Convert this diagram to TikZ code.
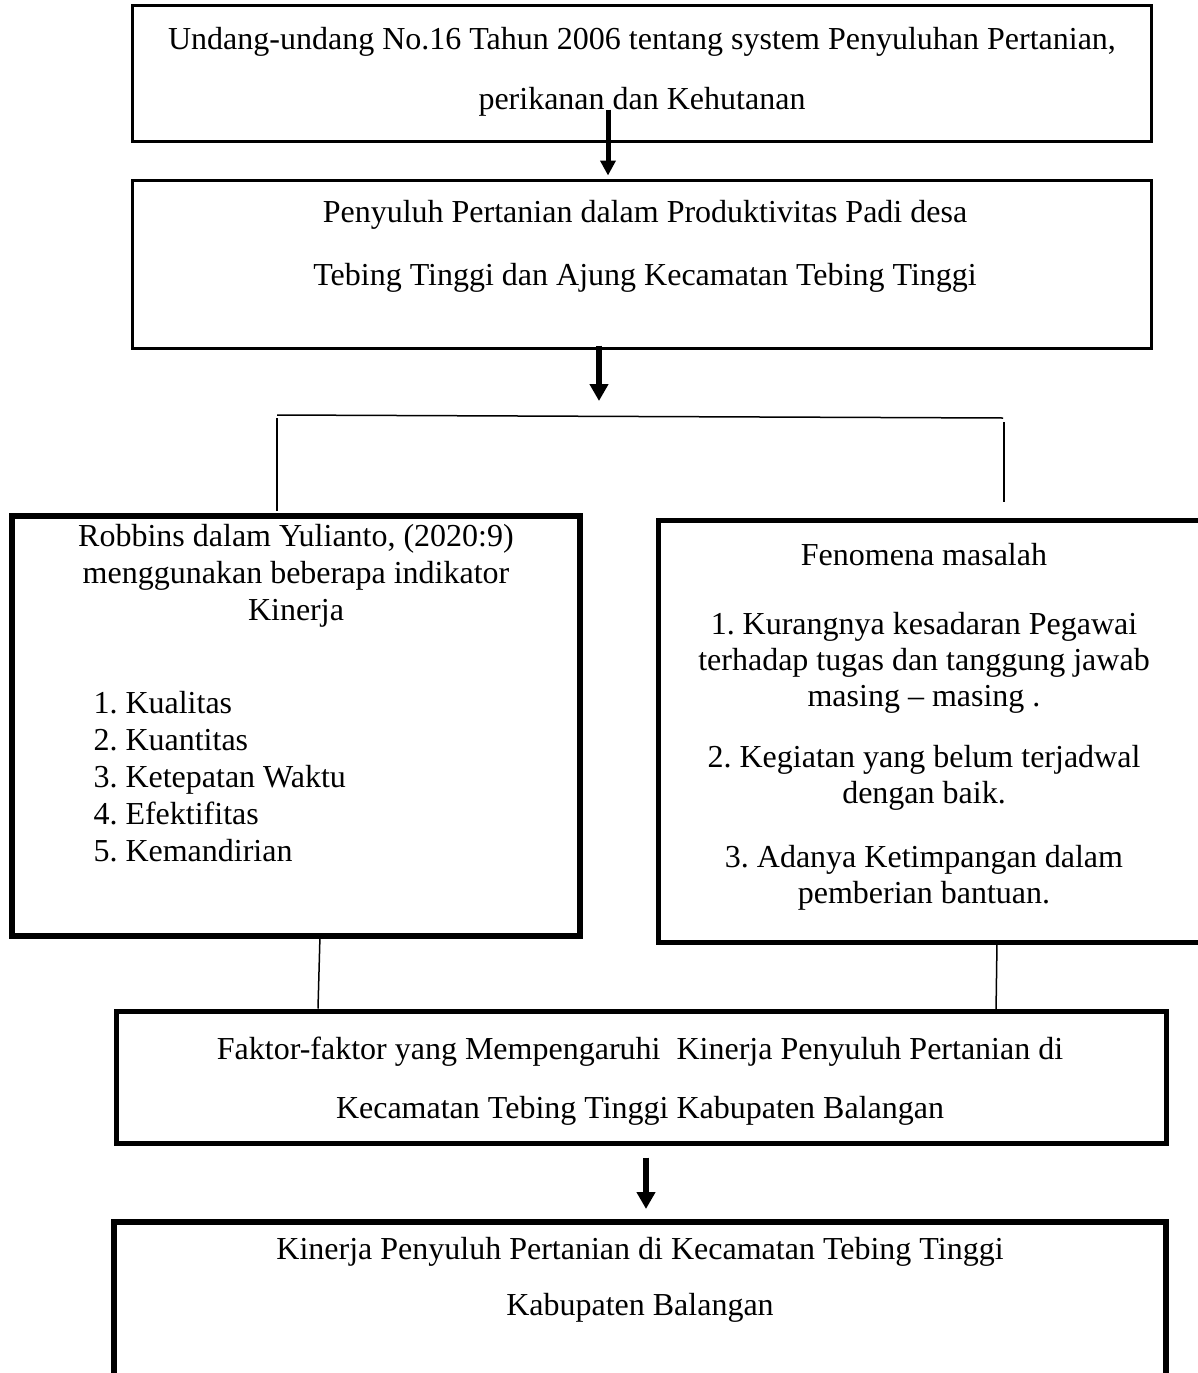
\documentclass[tikz,border=0pt]{standalone}
\usepackage{fontspec}
\setmainfont{Liberation Serif}
\usetikzlibrary{calc,arrows.meta}
\frenchspacing

\begin{document}
\begin{tikzpicture}[x=0.4pt, y=-0.4pt,
            box/.style={draw, rectangle, inner sep=0pt},
            txt/.style={inner sep=0pt, anchor=north, align=center},
            link/.style={line width=0.6pt},
            arr/.style={-{Triangle[width=7.2pt,length=6.8pt]}, line width=2.4pt}]
            \useasboundingbox (0,0) rectangle (1198,1373);

            % Boxes
            \node[box, line width=1.2pt, minimum width=407.2pt, minimum height=54pt] (b1) at (642, 73.5) {};
            \node[box, line width=1.2pt, minimum width=407.2pt, minimum height=67.2pt] (b2) at (642, 264) {};
            \node[box, line width=2.4pt, minimum width=227.2pt, minimum height=168pt] (b3) at (296, 726) {};
            \node[box, line width=2pt, minimum width=222.8pt, minimum height=168.8pt] (b4) at (936.5, 731) {};
            \node[box, line width=2pt, minimum width=419.6pt, minimum height=52.8pt] (b5) at (641.5, 1077) {};
            \node[box, line width=2.4pt, minimum width=420.8pt, minimum height=71.2pt] (b6) at (640, 1311) {};

            % Texts
            \node[txt, font=\fontsize{12.8}{24}\selectfont] (t1) at (642, 27) {Undang-undang No.16 Tahun 2006 tentang system Penyuluhan Pertanian,\\perikanan dan Kehutanan};
            \node[txt, font=\fontsize{12.8}{25.2}\selectfont] (t2) at (645, 200) {Penyuluh Pertanian dalam Produktivitas Padi desa\\Tebing Tinggi dan Ajung Kecamatan Tebing Tinggi};
            \node[txt, font=\fontsize{12.8}{14.8}\selectfont] (t3) at (296, 524) {Robbins dalam Yulianto, (2020:9)\\menggunakan beberapa indikator\\Kinerja};
            \node[txt, anchor=north west, align=left, font=\fontsize{12.8}{14.8}\selectfont] (t3list) at (93, 691) {1. Kualitas\\2. Kuantitas\\3. Ketepatan Waktu\\4. Efektifitas\\5. Kemandirian};
            \node[txt, font=\fontsize{12.8}{14.4}\selectfont] (t4) at (924, 543) {Fenomena masalah\\[13.2pt]1. Kurangnya kesadaran Pegawai\\terhadap tugas dan tanggung jawab\\masing -- masing .\\[10pt]2. Kegiatan yang belum terjadwal\\dengan baik.\\[11.2pt]3. Adanya Ketimpangan dalam\\pemberian bantuan.};
            \node[txt, font=\fontsize{12.8}{23.6}\selectfont] (t5) at (640, 1036) {Faktor-faktor yang Mempengaruhi~ Kinerja Penyuluh Pertanian di\\Kecamatan Tebing Tinggi Kabupaten Balangan};
            \node[txt, font=\fontsize{12.8}{22.4}\selectfont] (t6) at (640, 1237) {Kinerja Penyuluh Pertanian di Kecamatan Tebing Tinggi\\Kabupaten Balangan};

            % Branch points
            \coordinate (arrEnd) at (599, 401);
            \coordinate (forkL) at (277, 415);
            \coordinate (forkR) at (1003, 418);
            \coordinate (dropR) at (1004, 502);

            % Arrows
            \draw[arr, line width=2pt, -{Triangle[width=6pt,length=6pt]}] ($(b1.south)+(-34,-33)$) -- ($(b2.north)+(-34,-3)$);
            \draw[arr] ($(b2.south)+(-43,-4)$) -- (arrEnd);
            \draw[arr] ($(b5.south)+(4.5,12)$) -- ($(b6.north)+(6,-10)$);

            % Lines
            \draw[link] (forkL) -- (forkR);
            \draw[link] ($(forkL)+(0,3)$) -- ($(b3.north)+(-19,-2)$);
            \draw[link] ($(forkR)+(1,4)$) -- (dropR);
            \draw[link] ($(b3.south)+(24,-4)$) -- ($(b5.north)+(-323.5,0)$);
            \draw[link] ($(b4.south)+(60.5,-2)$) -- ($(b5.north)+(354.5,4)$);
        \end{tikzpicture}
\end{document}
